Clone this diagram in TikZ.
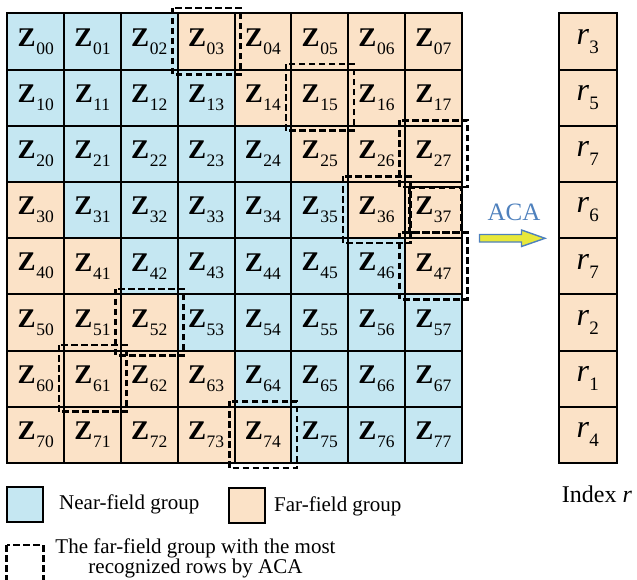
\documentclass[tikz,border=0pt]{standalone}
\usepackage{fontspec}
\setmainfont{Liberation Serif}
\definecolor{nearc}{RGB}{197,231,242}
\definecolor{farc}{RGB}{251,226,199}
\definecolor{acablue}{RGB}{79,129,189}
\definecolor{arrowyellow}{RGB}{232,232,58}
\newcommand{\zcell}[1]{{\fontsize{27}{27}\selectfont\bfseries Z}\kern0.6pt\raisebox{-8pt}{\fontsize{17.5}{17.5}\selectfont #1}}
\newcommand{\rcell}[1]{{\fontsize{32}{32}\selectfont\itshape r}\kern0.3pt\raisebox{-9pt}{\fontsize{19}{19}\selectfont #1}}
\tikzset{
  cell/.style={draw=black, line width=2pt, minimum width=56.8pt, minimum height=56.2pt, inner sep=0pt, outer sep=0pt},
  rbox/.style={cell, fill=farc, minimum width=57.7pt},
  dbox/.style={draw=black, line width=2.6pt, dash pattern=on 6.5pt off 3.5pt},
  legtext/.style={font=\fontsize{21}{21}\selectfont, inner sep=0pt, anchor=west},
  legsq/.style={draw=black, line width=2.2pt}
}
\begin{document}
\begin{tikzpicture}[x=1pt,y=-1pt]
\useasboundingbox (0,0) rectangle (637,579);
% matrix cells
\foreach \r in {0,...,7}{
  \foreach \c in {0,...,7}{
    \pgfmathtruncatemacro\dd{abs(\r-\c)}
    \ifnum\dd>2 \def\fc{farc}\else\def\fc{nearc}\fi
    \node[cell, fill=\fc] (z\r\c) at ({7.3+56.8*(\c+0.5)},{13.3+56.2*(\r+0.5)}) {\zcell{\r\c}};
  }
}
% index column
\foreach \k/\v in {0/3,1/5,2/7,3/6,4/7,5/2,6/1,7/4}{
  \node[rbox] (r\k) at (587.85,{13.3+56.2*(\k+0.5)}) {\rcell{\v}};
}
% dashed boxes
\foreach \n in {z03,z15,z27,z36,z47,z52,z61,z74}{
  \draw[dbox] ([shift={(-5.2,-5.5)}]\n.north west) rectangle ([shift={(5.8,5.0)}]\n.south east);
}
\draw[dbox] ([shift={(4.3,5.3)}]z37.north west) rectangle ([shift={(0,-5.5)}]z37.south east);
% ACA arrow
\node[text=acablue, font=\fontsize{25}{25}\selectfont, inner sep=0pt] (aca) at (514,212) {ACA};
\draw[fill=arrowyellow, draw=acablue, line width=1.4pt]
  (479.5,234.5) -- (521.5,234.5) -- (521.5,230) -- (545,238.3) -- (521.5,246.5) -- (521.5,242) -- (479.5,242) -- cycle;
% index label
\node[font=\fontsize{24}{24}\selectfont, inner sep=0pt] (idx) at (597,494) {Index \textit{r}};
% legend
\draw[legsq, fill=nearc] (6.7,486.7) rectangle (43.3,522.3);
\node[legtext] (nearl) at (59,504.5) {Near-field group};
\draw[legsq, fill=farc] (228.7,488.3) rectangle (265,523.3);
\node[legtext] (farl) at (274,506) {Far-field group};
\draw[dbox] (6.7,545) rectangle (43.3,590);
\node[font=\fontsize{21}{20}\selectfont, align=center, inner sep=0pt] (dashl) at (195.5,558) {The far-field group with the most\\recognized rows by ACA};
\end{tikzpicture}
\end{document}
